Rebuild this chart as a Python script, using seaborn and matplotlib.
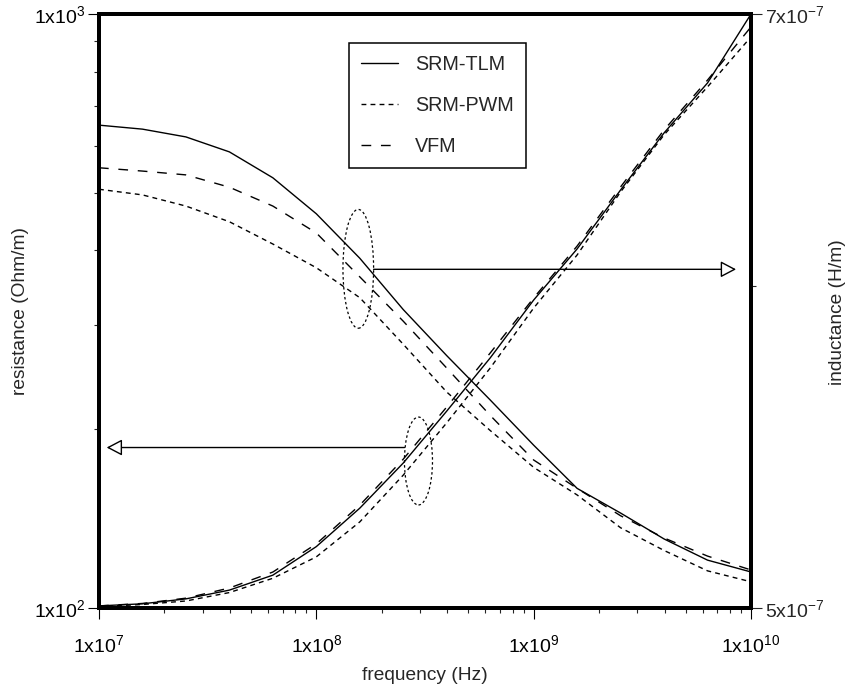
import numpy as np
import pandas as pd
import matplotlib
matplotlib.use('Agg')
import matplotlib.pyplot as plt
import matplotlib.patches as patches
from matplotlib.ticker import FixedLocator, NullFormatter, LogLocator
from matplotlib.lines import Line2D
import seaborn as sns

# frequency points (Hz), 5 per decade
freq = [1.0e7, 1.585e7, 2.512e7, 3.981e7, 6.310e7,
        1.0e8, 1.585e8, 2.512e8, 3.981e8, 6.310e8,
        1.0e9, 1.585e9, 2.512e9, 3.981e9, 6.310e9, 1.0e10]

# resistance (Ohm/m), left axis
r_tlm = [650, 640, 621, 586, 530, 461, 388, 318, 266, 224, 188, 159, 144.5, 130.7, 120.4, 115]
r_pwm = [507, 496, 475, 447, 410, 374, 333, 278, 231, 199, 172.5, 155, 136.5, 125, 115.5, 110.7]
r_vfm = [551, 544, 536, 511, 475, 428, 361, 304, 253.5, 211, 177.5, 159, 143, 131.2, 122.3, 115.9]

# inductance (x1e-7 H/m), right axis
l_tlm = [5.006, 5.012, 5.026, 5.051, 5.094, 5.177, 5.291, 5.428, 5.590, 5.761, 5.953, 6.128, 6.336, 6.544, 6.732, 7.000]
l_pwm = [5.004, 5.010, 5.020, 5.044, 5.085, 5.147, 5.250, 5.391, 5.553, 5.728, 5.926, 6.107, 6.329, 6.537, 6.717, 6.910]
l_vfm = [5.006, 5.013, 5.028, 5.057, 5.103, 5.185, 5.300, 5.440, 5.603, 5.777, 5.960, 6.138, 6.347, 6.555, 6.743, 6.949]

model_names = ['SRM-TLM', 'SRM-PWM', 'VFM']

sns.set_style('white')
plt.rcParams['font.family'] = ['Liberation Sans', 'DejaVu Sans']
plt.rcParams['mathtext.fontset'] = 'custom'
plt.rcParams['mathtext.rm'] = 'Liberation Sans'
plt.rcParams['mathtext.it'] = 'Liberation Sans:italic'
plt.rcParams['mathtext.bf'] = 'Liberation Sans:bold'

styles = {
    'SRM-TLM': '-',
    'SRM-PWM': (0, (3.5, 3)),
    'VFM': (0, (7, 7)),
}
LW = 1.0

fig = plt.figure(figsize=(8.51, 6.90), dpi=100)
ax = fig.add_axes([0.1163, 0.1188, 0.7662, 0.8609])
ax2 = ax.twinx()

df_r = pd.DataFrame({'freq': freq * 3,
                     'value': r_tlm + r_pwm + r_vfm,
                     'model': sum([[m] * len(freq) for m in model_names], [])})
df_l = pd.DataFrame({'freq': freq * 3,
                     'value': [v * 1e-7 for v in l_tlm + l_pwm + l_vfm],
                     'model': sum([[m] * len(freq) for m in model_names], [])})

for m in model_names:
    sub = df_r[df_r['model'] == m]
    sns.lineplot(data=sub, x='freq', y='value', ax=ax, color='black',
                 linewidth=LW, linestyle=styles[m], legend=False)
    sub = df_l[df_l['model'] == m]
    sns.lineplot(data=sub, x='freq', y='value', ax=ax2, color='black',
                 linewidth=LW, linestyle=styles[m], legend=False)

# scales and limits
ax.set_xscale('log')
ax.set_yscale('log')
ax2.set_yscale('log')
ax.set_xlim(1e7, 1e10)
ax.set_ylim(1e2, 1e3)
ax2.set_ylim(5e-7, 7e-7)

TFS = 14
ax.xaxis.set_major_locator(FixedLocator([1e7, 1e8, 1e9, 1e10]))
ax.set_xticklabels([r'1x10$^{7}$', r'1x10$^{8}$', r'1x10$^{9}$', r'1x10$^{10}$'])
ax.xaxis.set_minor_locator(LogLocator(base=10, subs=np.arange(2, 10)))
ax.xaxis.set_minor_formatter(NullFormatter())

ax.yaxis.set_major_locator(FixedLocator([1e2, 1e3]))
ax.set_yticklabels([r'1x10$^{2}$', r'1x10$^{3}$'])
ax.yaxis.set_minor_locator(LogLocator(base=10, subs=np.arange(2, 10)))
ax.yaxis.set_minor_formatter(NullFormatter())

ax2.yaxis.set_major_locator(FixedLocator([5e-7, 7e-7]))
ax2.set_yticklabels([r'5x10$^{-7}$', r'7x10$^{-7}$'])
ax2.yaxis.set_minor_locator(FixedLocator([6e-7]))
ax2.yaxis.set_minor_formatter(NullFormatter())

ax.tick_params(axis='both', which='major', direction='out', length=8, width=0.8,
               labelsize=TFS, colors='black', left=True, bottom=True, right=False, top=False)
ax.tick_params(axis='both', which='minor', direction='out', length=3.5, width=0.8,
               left=True, bottom=True, right=False, top=False)
ax.tick_params(axis='x', which='major', pad=11)
ax.tick_params(axis='y', which='major', pad=2)
ax2.tick_params(axis='y', which='major', direction='out', length=8, width=0.8,
                labelsize=TFS, pad=2, right=True, left=False)
ax2.tick_params(axis='y', which='minor', direction='out', length=3.5, width=0.8,
                right=True, left=False)

for a in (ax, ax2):
    for s in a.spines.values():
        s.set_linewidth(2.8)
        s.set_color('black')
        s.set_visible(True)

ax.set_xlabel('')
ax.set_ylabel('')
ax2.set_ylabel('')

LFS = 13.8
fig.text(425 / 851, 1 - 675 / 690, 'frequency (Hz)', ha='center', va='center', fontsize=LFS)
fig.text(21 / 851, 1 - 311 / 690, 'resistance (Ohm/m)', ha='center', va='center',
         rotation=90, fontsize=LFS)
fig.text(838 / 851, 1 - 312 / 690, 'inductance (H/m)', ha='center', va='center',
         rotation=90, fontsize=LFS)

# legend
handles = [Line2D([], [], color='black', lw=LW, linestyle=styles[m]) for m in model_names]
leg = ax.legend(handles, model_names, loc='upper left', bbox_to_anchor=(0.383, 0.952),
                borderaxespad=0, fontsize=14.2, frameon=True, fancybox=False,
                edgecolor='black', framealpha=1, handlelength=1.9, handletextpad=0.85,
                labelspacing=1.12, borderpad=0.62)
leg.get_frame().set_linewidth(1.1)

# annotations: dotted ellipses and hollow-head arrows (axes fraction)
ell1 = patches.Ellipse((0.3977, 0.571), 0.047, 0.200, transform=ax.transAxes,
                       fill=False, ec='black', lw=0.9, ls=(0, (2, 2)), zorder=5)
ell2 = patches.Ellipse((0.490, 0.2475), 0.043, 0.148, transform=ax.transAxes,
                       fill=False, ec='black', lw=0.9, ls=(0, (2, 2)), zorder=5)
ax2.add_patch(ell1)
ax2.add_patch(ell2)

arrow_kw = dict(arrowstyle='-|>,head_length=0.95,head_width=0.5', fc='white',
                ec='black', lw=1.0, shrinkA=0, shrinkB=0)
ax2.annotate('', xy=(0.9771, 0.5702), xytext=(0.4211, 0.5702),
             xycoords='axes fraction', textcoords='axes fraction', arrowprops=arrow_kw)
ax2.annotate('', xy=(0.0118, 0.2702), xytext=(0.4686, 0.2702),
             xycoords='axes fraction', textcoords='axes fraction', arrowprops=arrow_kw)

fig.savefig('out.png', dpi=100, facecolor='white')
